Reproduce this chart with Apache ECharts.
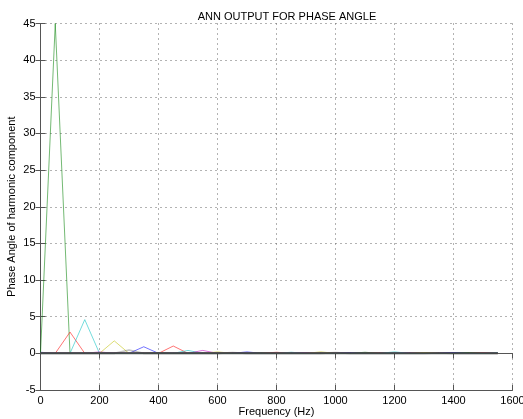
<!DOCTYPE html>
<html>
<head>
<meta charset="utf-8">
<script src="https://cdn.jsdelivr.net/npm/echarts@6/dist/echarts.min.js"></script>
<style>
html, body { margin: 0; padding: 0; background: #fff; }
#main { width: 523px; height: 419px; }
</style>
</head>
<body>
<div id="main"></div>
<script>
// harmonic frequencies (Hz), one sample every 50 Hz
var freqs = [0, 50, 100, 150, 200, 250, 300, 350, 400, 450, 500, 550, 600, 650, 700, 750,
             800, 850, 900, 950, 1000, 1050, 1100, 1150, 1200, 1250, 1300, 1350, 1400, 1450, 1500, 1550];
// each output curve is zero except at its own harmonic; this is the value there
var peaks = [0.15, 45, 2.9, 4.6, 0.2, 1.7, 0.45, 0.9, 0.1, 1.0, 0.4, 0.4, 0.2, 0.1, 0.2, 0.1,
             0.15, 0.15, 0.1, 0.2, 0.1, 0.1, 0.15, 0.05, 0.2, 0.05, 0.1, 0.05, 0.1, 0.1, 0.05, 0.05];
var xTicks = [0, 200, 400, 600, 800, 1000, 1200, 1400, 1600];
var yTicks = [-5, 0, 5, 10, 15, 20, 25, 30, 35, 40, 45];
// matlab line colour order b g r c m y k
var colors = ['#0000ff', '#008000', '#ff0000', '#00bfbf', '#bf00bf', '#bfbf00', '#404040'];

var myChart = echarts.init(document.getElementById('main'));

var series = [];
for (var i = 0; i < peaks.length; i++) {
    var pts = [];
    for (var j = 0; j < freqs.length; j++) {
        pts.push([freqs[j], j === i ? peaks[i] : 0]);
    }
    var c = colors[i % colors.length];
    var isK = c === '#404040';
    series.push({
        type: 'line',
        data: pts,
        symbol: 'none',
        animation: false,
        z: isK ? 3 : 2,
        lineStyle: { color: c, width: isK ? 1.6 : 1, opacity: isK ? 0.3 : 0.55 }
    });
}

var font = 'Liberation Sans, Arial, sans-serif';

var option = {
    backgroundColor: '#fff',
    title: {
        text: 'ANN OUTPUT FOR PHASE ANGLE',
        left: 282, top: 6, textAlign: 'center',
        textStyle: { fontFamily: font, fontSize: 11, fontWeight: 'normal', color: '#000' }
    },
    grid: { left: 40.5, right: 10.5, top: 23.5, bottom: 29, outerBoundsMode: 'none', containLabel: false },
    xAxis: [{
        type: 'value', min: 0, max: 1600, interval: 200,
        name: 'Frequency (Hz)', nameLocation: 'middle', nameGap: 16, nameMoveOverlap: false,
        nameTextStyle: { fontFamily: font, fontSize: 11, color: '#000' },
        axisLine: { onZero: false, lineStyle: { color: '#555' } },
        axisTick: { inside: true, length: 5, lineStyle: { color: '#555' } },
        axisLabel: { fontFamily: font, fontSize: 11, color: '#000', margin: 5,
            formatter: function (v) { return xTicks.indexOf(v) >= 0 ? String(v) : ''; } },
        splitLine: { show: true, lineStyle: { color: '#666', type: [1, 4] } }
    }, {
        type: 'value', position: 'top', min: 0, max: 1600, interval: 200,
        axisLine: { show: true, lineStyle: { color: '#555' } },
        axisTick: { show: true, inside: true, length: 5, lineStyle: { color: '#555' } },
        axisLabel: { show: false }, splitLine: { show: false }
    }],
    yAxis: [{
        type: 'value', min: -5, max: 45, interval: 5,
        name: 'Phase Angle of harmonic component', nameLocation: 'middle', nameGap: 23, nameMoveOverlap: false,
        nameTextStyle: { fontFamily: font, fontSize: 11, color: '#000' },
        axisLine: { show: true, onZero: false, lineStyle: { color: '#555' } },
        axisTick: { show: true, inside: true, length: 5, lineStyle: { color: '#555' } },
        axisLabel: { fontFamily: font, fontSize: 11, color: '#000', margin: 5,
            formatter: function (v) { return yTicks.indexOf(v) >= 0 ? String(v) : ''; } },
        splitLine: { show: true, lineStyle: { color: '#666', type: [1, 4] } }
    }, {
        type: 'value', position: 'right', min: -5, max: 45, interval: 5,
        axisLine: { show: true, lineStyle: { color: '#555' } },
        axisTick: { show: true, inside: true, length: 5, lineStyle: { color: '#555' } },
        axisLabel: { show: false }, splitLine: { show: false }
    }],
    series: series
};

myChart.setOption(option);
</script>
</body>
</html>
